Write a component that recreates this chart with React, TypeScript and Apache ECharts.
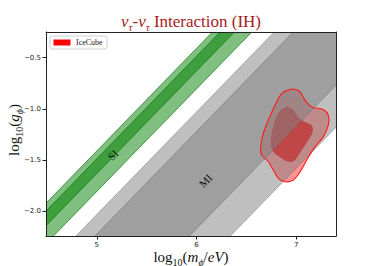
import React, { useEffect, useRef } from 'react';
import * as echarts from 'echarts';

const X_RANGE = [4.49, 7.4];
const Y_RANGE = [-2.24, -0.25];
const X_TICKS = [5, 6, 7];
const Y_TICKS = [-2.0, -1.5, -1.0, -0.5];

// bands y = x + c : [c_low, c_high]
const SI_OUTER = [-6.805, -6.41];
const SI_INNER = [-6.63, -6.487];
const MI_OUTER = [-8.58, -7.03];
const MI_INNER = [-8.17, -7.22];

const BAND_LABELS = ['SI', 'MI'];
const BAND_LABEL_X = [5.16, 6.09];
const BAND_LABEL_Y = [-1.45, -1.70];

const ICE_OUTER_X = [6.938, 6.855, 6.788, 6.721, 6.670, 6.644, 6.654, 6.721, 6.771, 6.821, 6.888, 6.971, 7.039, 7.106, 7.189, 7.272, 7.323, 7.323, 7.272, 7.156, 7.089, 7.039, 6.989];
const ICE_OUTER_Y = [-0.811, -0.850, -0.964, -1.110, -1.240, -1.370, -1.451, -1.516, -1.597, -1.678, -1.711, -1.695, -1.614, -1.500, -1.370, -1.273, -1.159, -1.061, -1.006, -0.981, -0.915, -0.834, -0.808];
const ICE_INNER_X = [6.888, 6.831, 6.788, 6.755, 6.745, 6.771, 6.838, 6.921, 6.988, 7.056, 7.122, 7.166, 7.156, 7.089, 7.022, 6.971, 6.921];
const ICE_INNER_Y = [-0.986, -1.029, -1.110, -1.240, -1.354, -1.419, -1.473, -1.516, -1.500, -1.402, -1.305, -1.224, -1.159, -1.127, -1.078, -1.006, -0.981];

const CONTOURS = [
  { xs: ICE_OUTER_X, ys: ICE_OUTER_Y, fill: 'rgba(255,0,0,0.42)' },
  { xs: ICE_INNER_X, ys: ICE_INNER_Y, fill: 'rgba(255,0,0,0.9)' },
];

const SERIF = '"Liberation Serif", "Times New Roman", serif';

function bandSeries(c: number[], fill: string, stroke: string, z: number) {
  return {
    type: 'custom',
    clip: true,
    z,
    silent: true,
    data: [c],
    renderItem: (_p: any, api: any) => {
      const c1 = api.value(0);
      const c2 = api.value(1);
      const xa = X_RANGE[0] - 1;
      const xb = X_RANGE[1] + 1;
      const pts = [[xa, xa + c1], [xb, xb + c1], [xb, xb + c2], [xa, xa + c2]].map((p) => api.coord(p));
      return { type: 'polygon', shape: { points: pts }, style: { fill, stroke, lineWidth: 0.8 } };
    },
  };
}

function contourSeries(mode: 'fill' | 'stroke', z: number) {
  return {
    type: 'custom',
    clip: true,
    z,
    silent: true,
    data: CONTOURS.map((c) => [c.xs[0], c.ys[0]]),
    renderItem: (p: any, api: any) => {
      const c = CONTOURS[p.dataIndex];
      const pts = c.xs.map((x, i) => api.coord([x, c.ys[i]]));
      if (mode === 'fill') {
        return { type: 'polygon', shape: { points: pts, smooth: 0.35 }, style: { fill: c.fill, stroke: 'none' } };
      }
      if (p.dataIndex !== 0) return null;
      return { type: 'polygon', shape: { points: pts, smooth: 0.35 }, style: { fill: 'none', stroke: 'rgba(255,20,20,0.95)', lineWidth: 1.1 } };
    },
  };
}

const labelRich = {
  t: { fontSize: 15, fontFamily: SERIF, fill: '#111', lineHeight: 20, verticalAlign: 'middle' },
  i: { fontSize: 15, fontFamily: SERIF, fontStyle: 'italic', fill: '#111', lineHeight: 20, verticalAlign: 'middle' },
  n: { fontSize: 10, fontFamily: SERIF, fill: '#111', lineHeight: 11, verticalAlign: 'bottom' },
  s: { fontSize: 10, fontFamily: SERIF, fontStyle: 'italic', fill: '#111', lineHeight: 11, verticalAlign: 'bottom' },
};

export default function App() {
  const ref = useRef<HTMLDivElement>(null);
  useEffect(() => {
    const chart = echarts.init(ref.current!, null, { renderer: 'svg' });
    const axisCommon = {
      type: 'value',
      z: 10,
      splitLine: { show: false },
      axisLine: { show: true, onZero: false, lineStyle: { color: '#222', width: 1 } },
    };
    chart.setOption({
      animation: false,
      backgroundColor: '#fff',
      grid: { left: 46, right: 38, top: 32, bottom: 30, containLabel: false },
      xAxis: [
        {
          ...axisCommon,
          position: 'bottom',
          min: X_RANGE[0],
          max: X_RANGE[1],
          axisTick: { show: true, customValues: X_TICKS, length: 3.5, lineStyle: { color: '#222' } },
          axisLabel: { customValues: X_TICKS, margin: 5, fontSize: 7, fontFamily: 'DejaVu Sans', color: '#222', formatter: (v: number) => String(v) },
        },
        {
          ...axisCommon,
          position: 'top',
          min: X_RANGE[0],
          max: X_RANGE[1],
          axisTick: { show: false },
          axisLabel: { show: false },
        },
      ],
      yAxis: [
        {
          ...axisCommon,
          position: 'left',
          min: Y_RANGE[0],
          max: Y_RANGE[1],
          axisTick: { show: true, customValues: Y_TICKS, length: 3.5, lineStyle: { color: '#222' } },
          axisLabel: { customValues: Y_TICKS, margin: 5, fontSize: 7, fontFamily: 'DejaVu Sans', color: '#222', formatter: (v: number) => v.toFixed(1).replace('-', '\u2212') },
        },
        {
          ...axisCommon,
          position: 'right',
          min: Y_RANGE[0],
          max: Y_RANGE[1],
          axisTick: { show: false },
          axisLabel: { show: false },
        },
      ],
      series: [
        contourSeries('fill', 1),
        bandSeries(MI_OUTER, 'rgba(128,128,128,0.5)', 'rgba(100,100,100,0.55)', 2),
        bandSeries(MI_INNER, 'rgba(128,128,128,0.5)', 'rgba(100,100,100,0.55)', 2),
        bandSeries(SI_OUTER, 'rgba(0,128,0,0.5)', 'rgba(0,110,0,0.8)', 2),
        bandSeries(SI_INNER, 'rgba(0,128,0,0.5)', 'rgba(0,110,0,0.8)', 2),
        contourSeries('stroke', 3),
        {
          type: 'custom',
          z: 4,
          silent: true,
          data: BAND_LABEL_X.map((x, i) => [x, BAND_LABEL_Y[i]]),
          renderItem: (p: any, api: any) => {
            const pt = api.coord([api.value(0), api.value(1)]);
            return {
              type: 'text',
              x: pt[0],
              y: pt[1],
              rotation: 0.8,
              style: { text: BAND_LABELS[p.dataIndex], fill: '#111', font: `11px ${SERIF}`, align: 'center', verticalAlign: 'middle' },
            };
          },
        },
      ],
      graphic: [
        {
          type: 'text',
          x: 191,
          y: 21,
          style: {
            text: '{m|ν}{s|τ}{t|-}{m|ν}{s|τ}{t| Interaction (IH)}',
            align: 'center',
            verticalAlign: 'middle',
            fill: '#a51c1c',
            rich: {
              m: { fontSize: 17, fontFamily: SERIF, fontStyle: 'italic', fill: '#a51c1c', lineHeight: 22, verticalAlign: 'middle' },
              t: { fontSize: 17, fontFamily: SERIF, fill: '#a51c1c', lineHeight: 22, verticalAlign: 'middle' },
              s: { fontSize: 11, fontFamily: SERIF, fontStyle: 'italic', fill: '#a51c1c', lineHeight: 12, verticalAlign: 'bottom' },
            },
          },
        },
        {
          type: 'text',
          x: 191,
          y: 257,
          style: {
            text: '{t|log}{n|10}{t|(}{i|m}{s|ϕ}{t|/}{i|eV}{t|)}',
            align: 'center',
            verticalAlign: 'middle',
            rich: labelRich,
          },
        },
        {
          type: 'text',
          x: 14,
          y: 130,
          rotation: Math.PI / 2,
          style: {
            text: '{t|log}{n|10}{t|(}{i|g}{s|ϕ}{t|)}',
            align: 'center',
            verticalAlign: 'middle',
            rich: labelRich,
          },
        },
        {
          type: 'group',
          z: 20,
          children: [
            { type: 'rect', shape: { x: 50, y: 36, width: 57, height: 13, r: 2 }, style: { fill: 'rgba(255,255,255,0.85)', stroke: '#d0d0d0', lineWidth: 1 } },
            { type: 'rect', shape: { x: 53.5, y: 39.5, width: 17, height: 6 }, style: { fill: '#ff0000' } },
            { type: 'text', x: 76, y: 42.5, style: { text: 'IceCube', font: `8px ${SERIF}`, fill: '#222', verticalAlign: 'middle', align: 'left' } },
          ],
        },
      ],
    });
    return () => chart.dispose();
  }, []);
  return <div ref={ref} style={{ position: 'fixed', left: 0, top: 0, width: 374, height: 266 }} />;
}
